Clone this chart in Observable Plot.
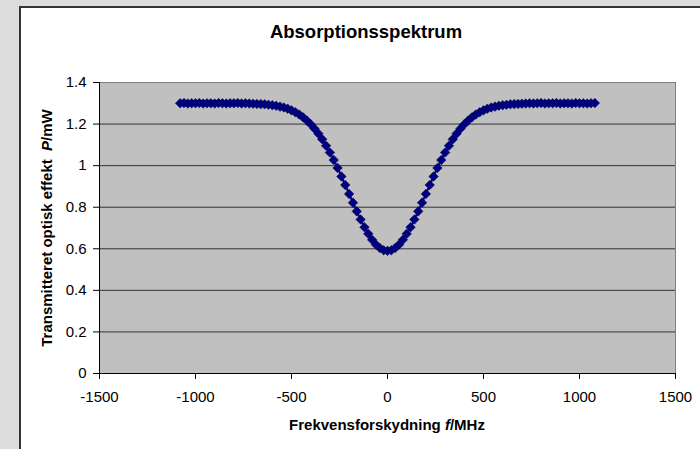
<!DOCTYPE html>
<html>
<head>
<meta charset="utf-8">
<script src="https://cdn.jsdelivr.net/npm/d3@7"></script>
<script src="https://cdn.jsdelivr.net/npm/@observablehq/plot@0.6"></script>
<style>
  html { background: #dcdcdc; }
  html, body { margin: 0; padding: 0; overflow: hidden; }
  body { font-family: "Liberation Sans", Arial, sans-serif; color: #000; }
  #gray { position: absolute; left: 0; top: 0; width: 700px; height: 449px; background: #dcdcdc; }
  #box { position: absolute; left: 19px; top: 6px; width: 681px; height: 443px; box-sizing: border-box; background: #fff; border-left: 2px solid #333; border-top: 2px solid #333; }
  #chart { position: absolute; left: 0; top: 0; width: 700px; height: 449px; }
  .title { position: absolute; left: 0; width: 732px; top: 23px; text-align: center; font-size: 18.5px; line-height: 18px; font-weight: bold; white-space: pre; }
  .xlabel { position: absolute; left: 237px; width: 300px; top: 415px; text-align: center; font-size: 15px; line-height: 20px; font-weight: bold; white-space: pre; }
  .ylabel { position: absolute; left: -103px; top: 218px; width: 300px; height: 20px; line-height: 20px; text-align: center; font-size: 15px; font-weight: bold; white-space: pre; transform: rotate(-90deg); }
</style>
</head>
<body>
<div id="gray"></div>
<div id="box"></div>
<div id="chart"></div>
<div class="title">Absorptionsspektrum</div>
<div class="xlabel">Frekvensforskydning <i>f</i>/MHz</div>
<div class="ylabel">Transmitteret optisk effekt  <i>P</i>/mW</div>
<script>
const freq = [
  -1080, -1060, -1040, -1020, -1000, -980, -960, -940, -920, -900,
  -880, -860, -840, -820, -800, -780, -760, -740, -720, -700,
  -680, -660, -640, -620, -600, -580, -560, -540, -520, -500,
  -480, -460, -440, -420, -400, -380, -360, -340, -320, -300,
  -280, -260, -240, -220, -200, -180, -160, -140, -120, -100,
  -80, -60, -40, -20, 0, 20, 40, 60, 80, 100,
  120, 140, 160, 180, 200, 220, 240, 260, 280, 300,
  320, 340, 360, 380, 400, 420, 440, 460, 480, 500,
  520, 540, 560, 580, 600, 620, 640, 660, 680, 700,
  720, 740, 760, 780, 800, 820, 840, 860, 880, 900,
  920, 940, 960, 980, 1000, 1020, 1040, 1060, 1080
];
const power = [
  1.300, 1.301, 1.299, 1.300, 1.300, 1.301, 1.299, 1.300, 1.300, 1.299,
  1.301, 1.300, 1.299, 1.300, 1.300, 1.301, 1.299, 1.300, 1.299, 1.298,
  1.297, 1.296, 1.295, 1.293, 1.291, 1.288, 1.284, 1.280, 1.274, 1.266,
  1.257, 1.246, 1.233, 1.217, 1.199, 1.178, 1.154, 1.127, 1.096, 1.063,
  1.027, 0.989, 0.948, 0.907, 0.864, 0.822, 0.780, 0.741, 0.704, 0.672,
  0.643, 0.620, 0.604, 0.593, 0.590, 0.593, 0.604, 0.620, 0.643, 0.672,
  0.704, 0.741, 0.780, 0.822, 0.864, 0.907, 0.948, 0.989, 1.027, 1.063,
  1.096, 1.127, 1.154, 1.178, 1.199, 1.217, 1.233, 1.246, 1.257, 1.266,
  1.274, 1.280, 1.284, 1.288, 1.291, 1.293, 1.295, 1.296, 1.297, 1.298,
  1.299, 1.300, 1.299, 1.300, 1.301, 1.299, 1.300, 1.300, 1.301, 1.299,
  1.300, 1.300, 1.299, 1.301, 1.300, 1.300, 1.299, 1.300, 1.301
];
const xTicks = [-1500, -1000, -500, 0, 500, 1000, 1500];
const yTicks = [0, 0.2, 0.4, 0.6, 0.8, 1, 1.2, 1.4];
const yGrid = [0.2, 0.4, 0.6, 0.8, 1, 1.2];

const data = freq.map((f, i) => ({f, p: power[i]}));

const chart = Plot.plot({
  width: 700,
  height: 449,
  marginLeft: 99,
  marginRight: 25,
  marginTop: 82,
  marginBottom: 76,
  style: {fontFamily: "'Liberation Sans', Arial, sans-serif", fontSize: "15px", color: "#000", background: "transparent", overflow: "visible"},
  x: {domain: [-1500, 1500]},
  y: {domain: [0, 1.4]},
  marks: [
    Plot.frame({fill: "#c0c0c0", stroke: "#808080"}),
    Plot.ruleY(yGrid, {stroke: "#333", strokeWidth: 1}),
    Plot.ruleY([0], {stroke: "#000"}),
    Plot.ruleX([-1500], {stroke: "#000"}),
    Plot.axisX({ticks: xTicks, tickSize: 6, tickPadding: 12, tickFormat: d => String(d), label: null, stroke: "#000", fill: "#000"}),
    Plot.axisY({ticks: yTicks, tickSize: 6, tickPadding: 7, tickFormat: d => d3.format("~g")(d), label: null, stroke: "#000", fill: "#000"}),
    Plot.line(data, {x: "f", y: "p", stroke: "#000080", strokeWidth: 2}),
    Plot.dot(data, {x: "f", y: "p", symbol: "diamond2", r: 4.3, fill: "#000080", stroke: "#000050", strokeWidth: 0.5})
  ]
});
document.getElementById("chart").appendChild(chart);
</script>
</body>
</html>
